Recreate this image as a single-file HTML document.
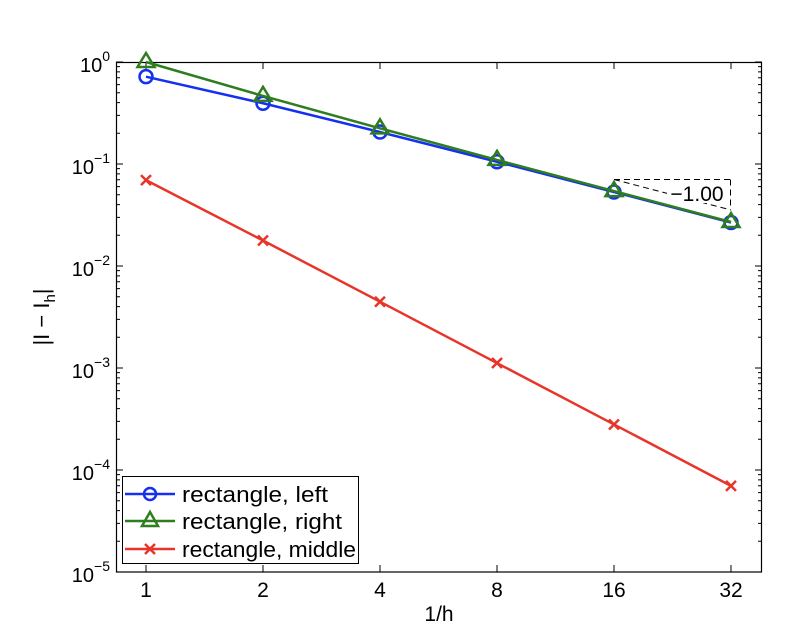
<!DOCTYPE html>
<html><head><meta charset="utf-8"><style>
html,body{margin:0;padding:0;background:#fff}
svg{display:block;font-family:"Liberation Sans",Arial,sans-serif}
</style></head><body>
<svg id="s" width="788" height="640" viewBox="0 0 788 640" xmlns="http://www.w3.org/2000/svg">
<rect x="0" y="0" width="788" height="640" fill="#fff"/>
<g id="ticks" stroke="#000" stroke-width="1"></g>
<rect x="116.5" y="62.5" width="645" height="509.5" fill="none" stroke="#000" stroke-width="1.2"/>
<g id="series"></g>
<g stroke="#000" stroke-width="1" stroke-dasharray="6,4" fill="none">
<line x1="614" y1="179.5" x2="731" y2="179.5"/>
<line x1="730.5" y1="179.5" x2="730.5" y2="210"/>
<line x1="614" y1="179.5" x2="731" y2="210"/>
</g>
<rect x="667" y="181" width="60" height="22" fill="#fff"/>
<text x="697" y="201" font-size="21" text-anchor="middle">−1.00</text>
<g font-size="20" text-anchor="end">
<text x="110" y="72">10<tspan font-size="14" dy="-11">0</tspan></text>
<text x="110" y="174">10<tspan font-size="14" dy="-11">−1</tspan></text>
<text x="110" y="276">10<tspan font-size="14" dy="-11">−2</tspan></text>
<text x="110" y="378">10<tspan font-size="14" dy="-11">−3</tspan></text>
<text x="110" y="480">10<tspan font-size="14" dy="-11">−4</tspan></text>
<text x="110" y="582">10<tspan font-size="14" dy="-11">−5</tspan></text>
</g>
<g font-size="21" text-anchor="middle">
<text x="146" y="597">1</text>
<text x="263" y="597">2</text>
<text x="380" y="597">4</text>
<text x="497" y="597">8</text>
<text x="614" y="597">16</text>
<text x="731" y="597">32</text>
<text x="439" y="621">1/h</text>
</g>
<text transform="translate(49,317) rotate(-90)" font-size="22" text-anchor="middle">|I − I<tspan font-size="15" dy="6">h</tspan><tspan dy="-6">|</tspan></text>
<rect x="122.5" y="476.5" width="236" height="87" fill="#fff" stroke="#000" stroke-width="1"/>
<g stroke-width="2.5" fill="none">
<line x1="125" y1="494" x2="175" y2="494" stroke="#1530f0"/>
<circle cx="150" cy="494" r="6" stroke="#1530f0"/>
<line x1="125" y1="521" x2="175" y2="521" stroke="#2e7d1e"/>
<polygon points="150,512 158,526 142,526" stroke="#2e7d1e"/>
<line x1="125" y1="549" x2="175" y2="549" stroke="#e8352a"/>
<path d="M145,544 L155,554 M155,544 L145,554" stroke="#e8352a"/>
</g>
<g font-size="22" textLength="0">
<text x="182" y="502" textLength="146" lengthAdjust="spacingAndGlyphs">rectangle, left</text>
<text x="182" y="529" textLength="160" lengthAdjust="spacingAndGlyphs">rectangle, right</text>
<text x="182" y="557" textLength="174" lengthAdjust="spacingAndGlyphs">rectangle, middle</text>
</g>
</svg>
<script>
var NS="http://www.w3.org/2000/svg";
function X(n){return 146+117*Math.log2(n);}
function Y(v){return 62-102*Math.log10(v);}
var tk=document.getElementById('ticks'),t='';
for(var e=0;e>=-5;e--){var y=Y(Math.pow(10,e));t+='M116,'+y+'h7M762,'+y+'h-7';
 if(e>-5)for(var m=2;m<10;m++){var yy=Y(m*Math.pow(10,e-1));t+='M116,'+yy+'h4M762,'+yy+'h-4';}}
[1,2,4,8,16,32].forEach(function(n){var x=X(n);t+='M'+x+',572v-7M'+x+',62v7';});
var p=document.createElementNS(NS,'path');p.setAttribute('d',t);tk.appendChild(p);
var I=Math.E-1,sg=document.getElementById('series'),h='';
var ns=[1,2,4,8,16,32];
function L(n){var hh=1/n;return Math.abs(I-hh*I/(Math.exp(hh)-1));}
function R(n){var hh=1/n;return Math.abs(I-hh*Math.exp(hh)*I/(Math.exp(hh)-1));}
function M(n){var hh=1/n;return Math.abs(I-hh*Math.exp(hh/2)*I/(Math.exp(hh)-1));}
function line(f,c){return '<polyline fill="none" stroke="'+c+'" stroke-width="2.5" points="'+ns.map(function(n){return X(n)+','+Y(f(n));}).join(' ')+'"/>';}
h+=line(L,'#1530f0');
ns.forEach(function(n){h+='<circle cx="'+X(n)+'" cy="'+Y(L(n))+'" r="6.5" fill="none" stroke="#1530f0" stroke-width="2.5"/>';});
h+=line(R,'#2e7d1e');
ns.forEach(function(n){var x=X(n),y=Y(R(n));h+='<polygon points="'+x+','+(y-9)+' '+(x+8.5)+','+(y+5)+' '+(x-8.5)+','+(y+5)+'" fill="none" stroke="#2e7d1e" stroke-width="2.5"/>';});
h+=line(M,'#e8352a');
ns.forEach(function(n){var x=X(n),y=Y(M(n));h+='<path d="M'+(x-5)+','+(y-5)+'L'+(x+5)+','+(y+5)+'M'+(x+5)+','+(y-5)+'L'+(x-5)+','+(y+5)+'" stroke="#e8352a" stroke-width="2.5"/>';});
sg.innerHTML=h;
</script>
</body></html>
